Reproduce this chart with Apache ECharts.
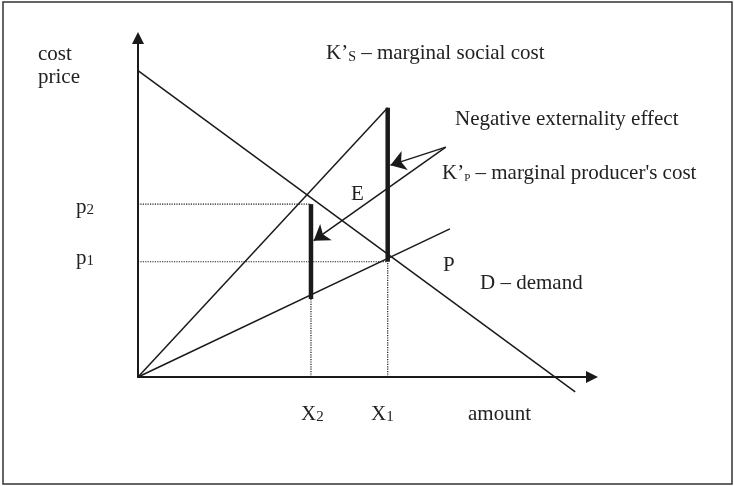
<!DOCTYPE html>
<html>
<head>
<meta charset="utf-8">
<title>Negative externality</title>
<script src="https://cdn.jsdelivr.net/npm/echarts@6/dist/echarts.min.js"></script>
<style>
  html, body { margin: 0; padding: 0; background: #fff; }
  #chart { width: 734px; height: 486px; }
</style>
</head>
<body>
<div id="chart"></div>
<script>
// ── data (quantity 0..100 on x, cost/price 0..100 on y) ──
const X1 = 55
const X2 = 38.1
const P1 = 34
const P2 = 51
const demand = [[0, 90.4], [96.3, -4.4]]
const socialCost = [[0, 0], [X1, 79.4]]
const producerCost = [[0, 0], [68.7, 43.7]]
const gapAtX1 = [[X1, P1], [X1, 79.4]]
const gapAtX2 = [[X2, 23], [X2, P2]]
const guides = [
  [[0, P2], [X2, P2]],
  [[0, P1], [X1, P1]],
  [[X2, 0], [X2, 23]],
  [[X1, 0], [X1, P1]],
]
const arrowFrom = [67.8, 67.8]
const arrowTo = [[55.6, 62.5], [38.7, 40.2]]

const INK = '#1a1a1a'
const TEXT = '#222'
const FONT = "'Liberation Serif','Times New Roman',serif"

const lineSeries = (data, width, type) => ({
  type: 'line',
  data,
  clip: false,
  silent: true,
  showSymbol: false,
  lineStyle: { color: INK, width, type: type || 'solid' },
})

const rich = {
  a: { fontSize: 21, lineHeight: 24, fontFamily: FONT, color: TEXT, verticalAlign: 'bottom' },
  s: { fontSize: 14, lineHeight: 14, fontFamily: FONT, color: TEXT, verticalAlign: 'bottom' },
  t: { fontSize: 11, lineHeight: 12, fontFamily: FONT, color: TEXT, verticalAlign: 'bottom' },
  n: { fontSize: 15, lineHeight: 15, fontFamily: FONT, color: TEXT, verticalAlign: 'bottom' },
}
const label = (x, y, text) => ({
  type: 'text', x, y, silent: true,
  style: { text, rich, verticalAlign: 'middle', align: 'left', fill: TEXT, font: '21px ' + FONT },
})

const axisBase = {
  type: 'value', min: 0, max: 100,
  axisLine: {
    show: true, symbol: ['none', 'triangle'], symbolSize: [12, 12],
    lineStyle: { color: INK, width: 2 },
  },
  axisTick: { show: false },
  axisLabel: { show: false },
  splitLine: { show: false },
}

const chart = echarts.init(document.getElementById('chart'))
chart.setOption({
  animation: false,
  backgroundColor: '#fff',
  grid: { left: 138, right: 142, top: 38, bottom: 109 },
  xAxis: axisBase,
  yAxis: axisBase,
  series: [
    lineSeries(demand, 1.5),
    lineSeries(socialCost, 1.5),
    lineSeries(producerCost, 1.5),
    lineSeries(gapAtX1, 4.5),
    lineSeries(gapAtX2, 4.5),
    ...guides.map((g) => lineSeries(g, 1.2, 'dotted')),
    {
      type: 'lines',
      coordinateSystem: 'cartesian2d',
      silent: true,
      symbol: ['none', 'arrow'],
      symbolSize: [10, 15],
      lineStyle: { color: INK, width: 1.5, opacity: 1 },
      data: arrowTo.map((to) => ({ coords: [arrowFrom, to] })),
    },
  ],
  graphic: [
    { type: 'rect', silent: true, shape: { x: 3, y: 2, width: 729, height: 482 },
      style: { fill: 'none', stroke: '#333', lineWidth: 1.5 } },
    label(38, 53, '{a|cost}'),
    label(38, 76, '{a|price}'),
    label(326, 52, '{a|K’}{s|S}{a| – marginal social cost}'),
    label(455, 118, '{a|Negative externality effect}'),
    label(442, 172, '{a|K’}{t|P}{a| – marginal producer\'s cost}'),
    label(351, 193, '{a|E}'),
    label(443, 264, '{a|P}'),
    label(480, 282, '{a|D – demand}'),
    label(76, 206, '{a|p}{n|2}'),
    label(76, 257, '{a|p}{n|1}'),
    label(301, 413, '{a|X}{n|2}'),
    label(371, 413, '{a|X}{n|1}'),
    label(468, 413, '{a|amount}'),
  ],
})
</script>
</body>
</html>
